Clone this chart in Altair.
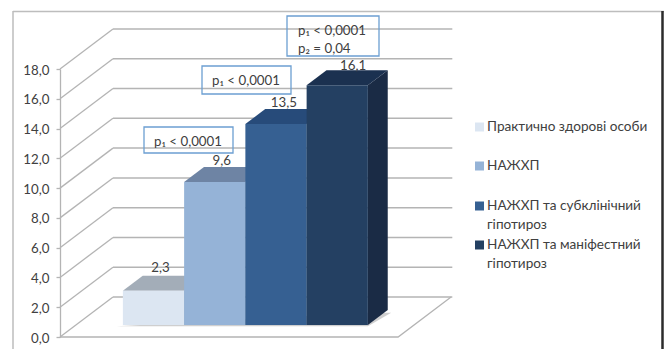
import altair as alt
import pandas as pd

# Mean values per patient group
groups = ["Практично здорові особи", "НАЖХП", "НАЖХП та субклінічний гіпотироз", "НАЖХП та маніфестний гіпотироз"]
values = [2.3, 9.6, 13.5, 16.1]
value_labels = ["2,3", "9,6", "13,5", "16,1"]
tick_values = [0, 2, 4, 6, 8, 10, 12, 14, 16, 18]

front_colors = ["#DCE6F2", "#95B3D7", "#366092", "#244062"]
top_colors = ["#A3ADB8", "#6E84A4", "#274B7A", "#1B3150"]
side_colors = ["#A3B0C0", "#6F86A6", "#274569", "#1A2B45"]

# Oblique projection: z runs from the front of the floor (0) to the back wall (1)
SLANT_X = 0.865
SLANT_V = 2.686
FLOOR_W = 5.52
BAR_START = 0.767
Z_FRONT = 0.30
Z_BACK = 0.675

GRID = "#B4B4B4"
TEXT = "#404040"
FONT = "Lato"
SIZE = 13.3
LEGEND_SIZE = 13.6

x_scale = alt.Scale(domain=[0, 605 / 61.25], range=[0, 605], nice=False, zero=False)
y_scale = alt.Scale(domain=[0, 18], range=[268, 0], nice=False, zero=False)
y_axis = alt.Axis(
    values=tick_values,
    title=None,
    grid=False,
    labelExpr="replace(format(datum.value, '.1f'), '.', ',')",
    labelFont=FONT,
    labelFontSize=SIZE,
    labelColor=TEXT,
    labelPadding=7,
    labelOffset=1,
    domainColor=GRID,
    domainWidth=1.3,
    tickColor=GRID,
    tickSize=4,
    tickWidth=1.3,
)
X = lambda f: alt.X(f, type="quantitative", scale=x_scale, axis=None)
Y = lambda f: alt.Y(f, type="quantitative", scale=y_scale, axis=y_axis)
layers = []


def pixel_rule(x1, y1, x2, y2, color, width):
    layers.append(
        alt.Chart(pd.DataFrame({"a": [0]}))
        .mark_rule(color=color, strokeWidth=width)
        .encode(x=alt.value(x1), x2=alt.value(x2), y=alt.value(y1), y2=alt.value(y2))
    )


def pixel_text(x, y, text, size=SIZE, align="left"):
    layers.append(
        alt.Chart(pd.DataFrame({"a": [0]}))
        .mark_text(text=text, font=FONT, fontSize=size, color=TEXT, align=align, baseline="middle")
        .encode(x=alt.value(x), y=alt.value(y))
    )


# Outer frame of the slide
pixel_rule(-47, -57.5, 604, -57.5, "#BDBDBD", 1.5)
pixel_rule(-47, -58, -47, 280, "#BDBDBD", 1.5)
pixel_rule(602.5, -58, 602.5, 280, "#2B2B2B", 2.5)

# Back wall gridlines
wall = pd.DataFrame({
    "x": [SLANT_X] * len(tick_values),
    "x2": [SLANT_X + FLOOR_W + 0.02] * len(tick_values),
    "v": [t + SLANT_V for t in tick_values],
})
layers.append(
    alt.Chart(wall).mark_rule(color=GRID, strokeWidth=1.5).encode(x=X("x"), x2="x2", y=Y("v"))
)

# Side wall lines rising from each tick
side_rows = []
for t in tick_values:
    side_rows.append({"t": t, "x": 0.0, "v": t})
    side_rows.append({"t": t, "x": SLANT_X, "v": t + SLANT_V})
layers.append(
    alt.Chart(pd.DataFrame(side_rows))
    .mark_line(color=GRID, strokeWidth=1.3)
    .encode(x=X("x"), y=Y("v"), detail="t:N")
)

# Floor outline: front edge and right edge
floor = pd.DataFrame({"x": [0, FLOOR_W, FLOOR_W + SLANT_X], "v": [0, 0, SLANT_V]})
layers.append(
    alt.Chart(floor).mark_line(color=GRID, strokeWidth=1.3).encode(x=X("x"), y=Y("v"))
)

# Soft shadow the bars cast on the floor
x_a = BAR_START - 0.1 + Z_FRONT * SLANT_X
x_b = BAR_START + 4 + Z_FRONT * SLANT_X
v_a = (Z_FRONT - 0.03) * SLANT_V
d_x = (Z_BACK - Z_FRONT) * SLANT_X
d_v = (Z_BACK - Z_FRONT) * SLANT_V
shadow = pd.DataFrame({
    "x": [x_a, x_b, x_b + 0.38],
    "v": [v_a, v_a, v_a + d_v * 0.9],
    "v2": [v_a, v_a + d_v * 0.9, v_a + d_v * 0.9],
})
layers.append(
    alt.Chart(shadow).mark_area(color="#BFBFBF", opacity=0.75).encode(x=X("x"), y=Y("v"), y2="v2")
)

# Bars, drawn left to right so that each one covers the back of its neighbour
for i, h in enumerate(values):
    x0 = BAR_START + i + Z_FRONT * SLANT_X
    x1 = x0 + 1
    v0 = Z_FRONT * SLANT_V
    top = pd.DataFrame({
        "x": [x0, x0 + d_x, x1, x1 + d_x],
        "v": [v0 + h, v0 + h, v0 + h, v0 + h + d_v],
        "v2": [v0 + h, v0 + h + d_v, v0 + h + d_v, v0 + h + d_v],
    })
    side = pd.DataFrame({
        "x": [x1, x1 + d_x],
        "v": [v0, v0 + d_v],
        "v2": [v0 + h, v0 + h + d_v],
    })
    front = pd.DataFrame({"x": [x0], "x2": [x1], "v": [v0], "v2": [v0 + h]})
    layers.append(alt.Chart(side).mark_area(color=side_colors[i]).encode(x=X("x"), y=Y("v"), y2="v2"))
    layers.append(alt.Chart(top).mark_area(color=top_colors[i]).encode(x=X("x"), y=Y("v"), y2="v2"))
    layers.append(
        alt.Chart(front).mark_rect(color=front_colors[i]).encode(x=X("x"), x2="x2", y=Y("v"), y2="v2")
    )

# Value labels above the bars, each nudged off its bar's top face
for i, (v, label, nudge_x, nudge_y) in enumerate(
    zip(values, value_labels, [-3, -3, -2, 6], [0, -2, -2, -4])
):
    spot = pd.DataFrame({
        "x": [BAR_START + i + 0.5 + Z_FRONT * SLANT_X + d_x * 0.5],
        "v": [v + Z_FRONT * SLANT_V + d_v],
    })
    layers.append(
        alt.Chart(spot)
        .mark_text(text=label, font=FONT, fontSize=SIZE, color=TEXT, baseline="bottom", dx=nudge_x, dy=-1 - nudge_y)
        .encode(x=X("x"), y=Y("v"))
    )

# Significance boxes
boxes = [(84, 58, 173, 84), (142, -3, 231, 25), (227, -53, 319, -13)]
for bx0, by0, bx1, by1 in boxes:
    layers.append(
        alt.Chart(pd.DataFrame({"a": [0]}))
        .mark_rect(fill=None, stroke="#6C9FD2", strokeWidth=1.3)
        .encode(x=alt.value(bx0), x2=alt.value(bx1), y=alt.value(by0), y2=alt.value(by1))
    )
pixel_text(94, 73, "p₁ < 0,0001")
pixel_text(152, 12, "p₁ < 0,0001")
pixel_text(238, -38, "p₁ < 0,0001")
pixel_text(238, -20, "p₂ = 0,04")

# Legend
legend_rows = [
    (58, ["Практично здорові особи"]),
    (97, ["НАЖХП"]),
    (137, ["НАЖХП та субклінічний", "гіпотироз"]),
    (176, ["НАЖХП та маніфестний", "гіпотироз"]),
]
for color, (ly, lines) in zip(front_colors, legend_rows):
    layers.append(
        alt.Chart(pd.DataFrame({"a": [0]}))
        .mark_rect(color=color)
        .encode(x=alt.value(415), x2=alt.value(424), y=alt.value(ly - 4.5), y2=alt.value(ly + 4.5))
    )
    for n, line in enumerate(lines):
        pixel_text(427, ly + n * 18.5, line, size=LEGEND_SIZE)

chart = (
    alt.layer(*layers)
    .resolve_scale(x="shared", y="shared")
    .properties(
        width=605,
        height=268,
        padding={"left": 60, "top": 69, "right": 0, "bottom": 12},
        autosize=alt.AutoSizeParams(type="none"),
        background="white",
    )
    .configure_view(stroke=None)
)

chart.save("out.html", embed_options={"renderer": "svg", "actions": False})
